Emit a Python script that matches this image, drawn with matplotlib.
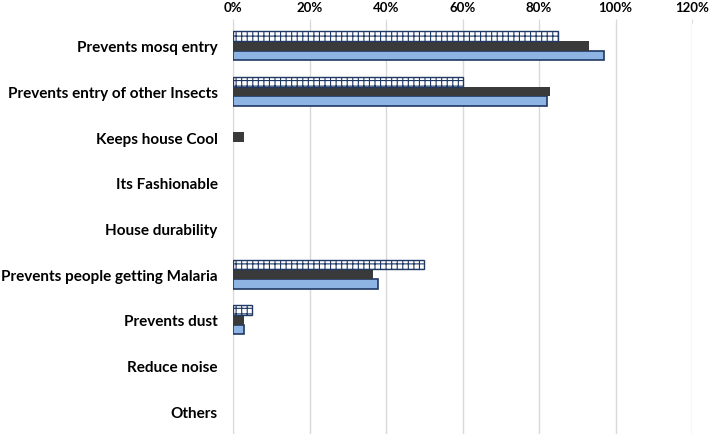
import numpy as np
import matplotlib.pyplot as plt

categories = ["Prevents mosq entry", "Prevents entry of other Insects", "Keeps house Cool",
              "Its Fashionable", "House durability", "Prevents people getting Malaria",
              "Prevents dust", "Reduce noise", "Others"]
# three series, percentages (bottom bar in each group first)
series_blue = [97, 82, 0, 0, 0, 38, 3, 0, 0]
series_dark = [93, 83, 3, 0, 0, 36.5, 3, 0, 0]
series_hatch = [85, 60, 0, 0, 0, 50, 5, 0, 0]
tick_labels = ["0%", "20%", "40%", "60%", "80%", "100%", "120%"]

plt.rcParams['font.family'] = ['Lato', 'DejaVu Sans']
plt.rcParams['hatch.color'] = '#1F3864'
plt.rcParams['hatch.linewidth'] = 0.8

fig = plt.figure(figsize=(7.09, 4.35), dpi=100)
ax = fig.add_axes([233 / 709, 0.0, (692 - 233) / 709, (435 - 24) / 435])

y = np.arange(len(categories))
h = 0.21


def draw(offset, vals, **kw):
    vals = np.array(vals) / 100
    keep = vals > 0
    ax.barh(y[keep] + offset, vals[keep], height=h, zorder=3, **kw)


draw(h, series_blue, color='#8DB4E2', edgecolor='#1F3864', linewidth=1.2)
draw(0, series_dark, color='#3A3A3A', edgecolor='none')
draw(-h, series_hatch, color='white', edgecolor='#1F3864', hatch='+++', linewidth=1.0)

ax.set_ylim(len(categories) - 0.5, -0.5)
ax.set_xlim(0, 1.2)
ax.set_yticks(y)
ax.set_yticklabels(categories, fontsize=11, fontweight='bold')
ax.set_xticks(np.arange(0, 1.21, 0.2))
ax.set_xticklabels(tick_labels, fontsize=9.5, fontweight='bold')
ax.xaxis.tick_top()
ax.tick_params(axis='y', length=0, pad=11)
ax.tick_params(axis='x', length=3, color='#D9D9D9', pad=4)
ax.grid(axis='x', color='#D9D9D9', linewidth=1, zorder=0)
for s in ['top', 'right', 'bottom']:
    ax.spines[s].set_visible(False)
ax.spines['left'].set_color('#D9D9D9')

fig.savefig('out.png', dpi=100)
